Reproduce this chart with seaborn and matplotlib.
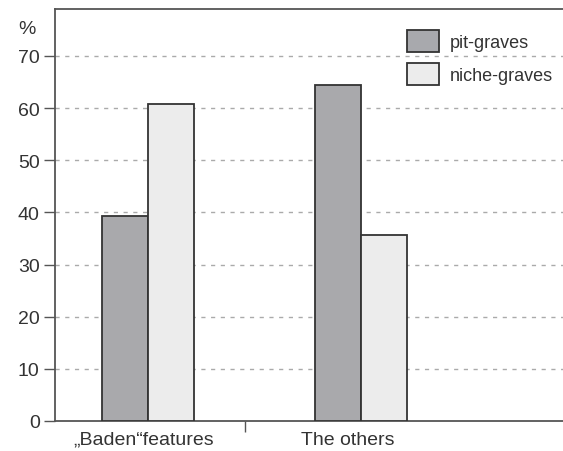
import matplotlib
matplotlib.use("Agg")
import matplotlib.pyplot as plt
import seaborn as sns
import pandas as pd
from matplotlib.patches import Patch

categories = ["\u201eBaden\u201cfeatures", "The others"]
series = ["pit-graves", "niche-graves"]
pit_values = [39.3, 64.4]
niche_values = [60.8, 35.6]
yticks = [0, 10, 20, 30, 40, 50, 60, 70]

df = pd.DataFrame({
    "category": categories * 2,
    "type": [series[0]] * 2 + [series[1]] * 2,
    "value": pit_values + niche_values,
})

sns.set_style("white")
plt.rcParams["font.family"] = ["Liberation Sans", "DejaVu Sans"]
txt = "#333333"
colors = {"pit-graves": "#a8a9ad", "niche-graves": "#ececec"}

fig = plt.figure(figsize=(5.63, 4.52), dpi=100)
ax = fig.add_axes([55 / 563, 30 / 452, 1 - 55 / 563 + 0.01, (422 - 10) / 452])

sns.barplot(data=df, x="category", y="value", hue="type", palette=colors,
            order=categories, hue_order=series, width=0.432,
            edgecolor="#333333", linewidth=1.3, ax=ax, legend=False, zorder=3)

ax.set_ylim(0, 79)
ax.set_xlim(-0.437, 1.974)
ax.set_yticks(yticks)
ax.set_yticklabels([str(v) for v in yticks], fontsize=14, color=txt)
ax.tick_params(axis="y", length=8, width=1, color="#555555", pad=3, left=True)
ax.set_xticks([0 - 4 / 213, 1 - 13 / 213])
ax.set_xticklabels(categories, fontsize=14, color=txt)
ax.tick_params(axis="x", which="major", length=0, pad=7)
ax.set_xticks([0.455], minor=True)
ax.tick_params(axis="x", which="minor", length=8, width=1, color="#555555", bottom=True)
ax.set_xlabel("")
ax.set_ylabel("")

for v in yticks[1:]:
    ax.axhline(v, color="#aaaaaa", linestyle=(0, (3, 4)), linewidth=1, zorder=1)

for s in ["left", "bottom", "top"]:
    ax.spines[s].set_color("#555555")
    ax.spines[s].set_linewidth(1.3)
ax.spines["right"].set_visible(False)

fig.text(27 / 563, 1 - 29 / 452, "%", fontsize=14, color=txt, ha="center", va="center")

handles = [Patch(facecolor=colors[s], edgecolor="#333333", linewidth=1.3, label=s) for s in series]
leg = ax.legend(handles=handles, loc="upper left", bbox_to_anchor=(407 / 563, 1 - 31 / 452),
                bbox_transform=fig.transFigure, frameon=False, fontsize=13, borderpad=0,
                borderaxespad=0, handlelength=1.77, handleheight=1.5, handletextpad=0.6,
                labelspacing=0.6)
for t in leg.get_texts():
    t.set_color(txt)

fig.savefig("out.png", dpi=100)
